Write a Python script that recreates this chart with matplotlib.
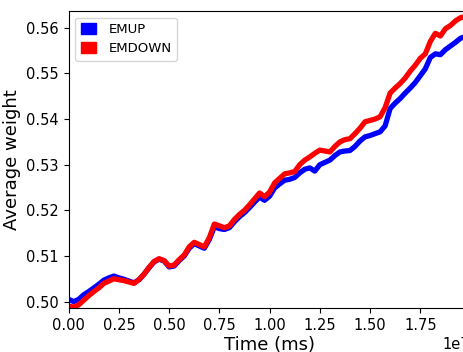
import numpy as np
import matplotlib
matplotlib.use("Agg")
import matplotlib.pyplot as plt
import matplotlib.patches as mpatches

# --- データ ---
# 時間 [ms] (0.025e7 刻み)
time_ms = np.arange(80) * 0.025e7

# EMUP の平均重み
emup = [
    0.5005, 0.5000, 0.5005, 0.5015, 0.5022, 0.5030, 0.5038, 0.5047, 0.5052, 0.5056,
    0.5052, 0.5049, 0.5045, 0.5041, 0.5048, 0.5060, 0.5074, 0.5087, 0.5093, 0.5089,
    0.5076, 0.5078, 0.5090, 0.5100, 0.5117, 0.5127, 0.5122, 0.5117, 0.5136, 0.5164,
    0.5160, 0.5158, 0.5162, 0.5175, 0.5186, 0.5195, 0.5206, 0.5218, 0.5229, 0.5222,
    0.5231, 0.5249, 0.5258, 0.5266, 0.5268, 0.5272, 0.5282, 0.5290, 0.5293, 0.5286,
    0.5300, 0.5305, 0.5310, 0.5320, 0.5328, 0.5330, 0.5331, 0.5340, 0.5352, 0.5361,
    0.5364, 0.5368, 0.5372, 0.5385, 0.5423, 0.5435, 0.5445, 0.5457, 0.5468, 0.5480,
    0.5495, 0.5510, 0.5535, 0.5543, 0.5541, 0.5552, 0.5560, 0.5568, 0.5577, 0.5581,
]

# EMDOWN の平均重み
emdown = [
    0.4990, 0.4988, 0.4993, 0.5003, 0.5013, 0.5022, 0.5030, 0.5040, 0.5045, 0.5050,
    0.5048, 0.5046, 0.5043, 0.5040, 0.5048, 0.5060, 0.5075, 0.5088, 0.5094, 0.5090,
    0.5078, 0.5080, 0.5092, 0.5102, 0.5120, 0.5130, 0.5125, 0.5120, 0.5140, 0.5170,
    0.5166, 0.5162, 0.5166, 0.5180, 0.5191, 0.5200, 0.5212, 0.5225, 0.5238, 0.5230,
    0.5240, 0.5260, 0.5270, 0.5280, 0.5282, 0.5285, 0.5300, 0.5310, 0.5317, 0.5325,
    0.5332, 0.5330, 0.5328, 0.5340, 0.5350, 0.5355, 0.5357, 0.5368, 0.5380, 0.5394,
    0.5397, 0.5400, 0.5405, 0.5425, 0.5457, 0.5468, 0.5478, 0.5490, 0.5505, 0.5518,
    0.5533, 0.5543, 0.5570, 0.5588, 0.5582, 0.5598, 0.5605, 0.5615, 0.5622, 0.5625,
]

# --- プロット ---
fig = plt.figure(figsize=(4.64, 3.52), dpi=100)
# 右端は画像の外まで伸ばす (元画像は右側が切れている)
ax = fig.add_axes([0.148, 0.125, 0.866, 0.844])

ax.plot(time_ms, emup, color="blue", lw=3.8)
ax.plot(time_ms, emdown, color="red", lw=3.8)

ax.set_xlim(0, 2.0e7)
ax.set_ylim(0.4986, 0.5637)
ax.set_xticks(np.arange(0, 2.0e7, 0.25e7))
ax.set_yticks([0.50, 0.51, 0.52, 0.53, 0.54, 0.55, 0.56])
ax.tick_params(labelsize=10.5)
ax.xaxis.get_offset_text().set_fontsize(10.5)

ax.set_xlabel("Time (ms)", fontsize=13, labelpad=2)
ax.set_ylabel("Average weight", fontsize=13)

handles = [mpatches.Patch(color="blue", label="EMUP"),
           mpatches.Patch(color="red", label="EMDOWN")]
ax.legend(handles=handles, loc="upper left", fontsize=9.5,
          handlelength=1.2, handleheight=0.9, handletextpad=0.9)

fig.savefig("out.png", dpi=100)
